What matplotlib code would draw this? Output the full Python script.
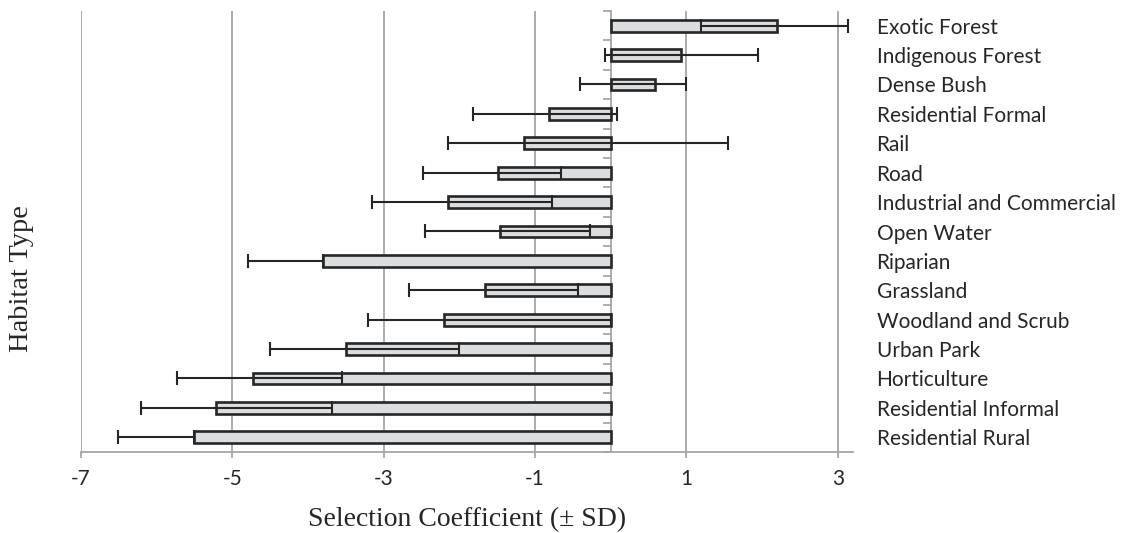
import numpy as np
import matplotlib
matplotlib.use('Agg')
import matplotlib.pyplot as plt

# Datos (de arriba hacia abajo)
habitats = ['Exotic Forest', 'Indigenous Forest', 'Dense Bush', 'Residential Formal',
            'Rail', 'Road', 'Industrial and Commercial', 'Open Water', 'Riparian',
            'Grassland', 'Woodland and Scrub', 'Urban Park', 'Horticulture',
            'Residential Informal', 'Residential Rural']
coef = [2.19, 0.925, 0.59, -0.82, -1.145, -1.49, -2.15, -1.46, -3.80,
        -1.665, -2.21, -3.50, -4.73, -5.21, -5.51]
sd_minus = [1.0, 1.0, 1.0, 1.0, 1.0, 0.99, 1.0, 1.0, 1.0,
            1.0, 1.0, 1.0, 1.0, 1.0, 1.0]
sd_plus = [0.94, 1.02, 0.41, 0.90, 2.70, 0.83, 1.37, 1.18, 0.0,
           1.23, 2.21, 1.50, 1.18, 1.53, 0.0]
xticks = [-7, -5, -3, -1, 1, 3]

grey = '#a6a6a6'
dark = '#262626'

fig = plt.figure(figsize=(11.26, 5.33), dpi=100)
ax = fig.add_axes([81 / 1126, 81 / 533, 772 / 1126, 441 / 533])

y = np.arange(len(habitats))
ax.barh(y, coef, height=0.4, color='#dcdddf', edgecolor=dark, linewidth=1.9, zorder=2)
ax.errorbar(coef, y, xerr=[sd_minus, sd_plus], fmt='none', ecolor=dark,
            elinewidth=1.5, capsize=5, capthick=1.5, zorder=3)

ax.set_xlim(-7, 3.2)
ax.set_ylim(len(habitats) - 0.5, -0.5)

# Ejes y rejilla
ax.set_xticks(xticks)
ax.set_xticklabels([str(t) for t in xticks])
ax.xaxis.grid(True, color=grey, linewidth=1.3, zorder=0)
ax.set_axisbelow(True)

for s in ['top', 'right']:
    ax.spines[s].set_visible(False)
ax.spines['left'].set_position(('data', 0))
ax.spines['left'].set_color(grey)
ax.spines['left'].set_linewidth(1.3)
ax.spines['left'].set_zorder(1)
ax.spines['bottom'].set_color(grey)
ax.spines['bottom'].set_linewidth(1.3)

ax.set_yticks(y)
ax.set_yticklabels(habitats)
ax.set_yticks(np.arange(len(habitats) + 1) - 0.5, minor=True)
ax.tick_params(axis='y', which='major', length=0, left=False, right=False,
               labelleft=False, labelright=True, pad=17)
ax.tick_params(axis='y', which='minor', length=5.5, width=1.3, color=grey,
               direction='out', left=True, right=False)
ax.tick_params(axis='x', length=4, width=1.3, color=grey, direction='out', pad=8)

for lab in ax.get_yticklabels():
    lab.set_fontfamily('Lato')
    lab.set_fontsize(15)
    lab.set_color(dark)
for lab in ax.get_xticklabels():
    lab.set_fontfamily('Lato')
    lab.set_fontsize(15)
    lab.set_color(dark)

fig.text(467 / 1126, 1 - 520 / 533, 'Selection Coefficient (\u00b1 SD)',
         family='Liberation Serif', fontsize=20, color=dark, ha='center', va='center')
fig.text(22 / 1126, 1 - 279 / 533, 'Habitat Type', family='Liberation Serif',
         fontsize=20.5, color=dark, rotation=90, ha='center', va='center')

plt.savefig('out.png', dpi=100)
